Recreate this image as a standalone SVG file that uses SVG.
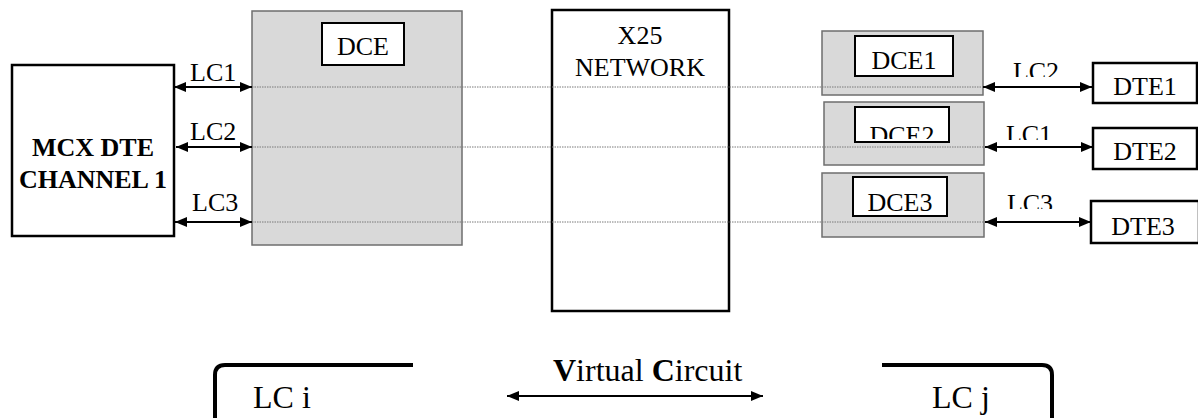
<svg xmlns="http://www.w3.org/2000/svg" width="1198" height="418" viewBox="0 0 1198 418">
<style>
text{font-family:"Liberation Serif","Times New Roman",serif;fill:#000}
.t26{font-size:26px}
.t32{font-size:32px}
.b{font-weight:bold}
.box{fill:#fff;stroke:#000;stroke-width:2.5}
.lbl{fill:#fff;stroke:#000;stroke-width:2}
.gray{fill:#d9d9d9;stroke:#6e6e6e;stroke-width:1.5}
.dot{stroke:#7a7a7a;stroke-width:1;stroke-dasharray:1.5 1;fill:none}
.arr{stroke:#000;stroke-width:2.2;fill:none;marker-start:url(#ah);marker-end:url(#ah)}
.brk{stroke:#000;stroke-width:4;fill:none}
</style>
<defs>
<marker id="ah" markerUnits="userSpaceOnUse" markerWidth="13" markerHeight="12" refX="12" refY="6" orient="auto-start-reverse" viewBox="0 0 13 12">
<path d="M0,1 L12,6 L0,11 z" fill="#000"/>
</marker>
<clipPath id="cDCE2"><rect x="855" y="107" width="94" height="32"/></clipPath>
<clipPath id="cR1"><rect x="995" y="55" width="80" height="22"/></clipPath>
<clipPath id="cR2"><rect x="995" y="115" width="80" height="25"/></clipPath>
<clipPath id="cR3"><rect x="995" y="185" width="80" height="24"/></clipPath>
</defs>

<g id="mcx">
<rect class="box" x="12" y="65" width="162" height="171" stroke-width="2"/>
<text class="t26 b" x="93" y="156" text-anchor="middle">MCX DTE</text>
<text class="t26 b" x="93" y="188" text-anchor="middle">CHANNEL 1</text>
</g>

<g id="dce">
<rect class="gray" x="252" y="11" width="210" height="234"/>
<rect class="lbl" x="322" y="23" width="82" height="42"/>
<text class="t26" x="363" y="55" text-anchor="middle">DCE</text>
</g>

<g id="x25">
<rect class="box" x="552" y="10" width="177" height="301"/>
<text class="t26" x="640" y="44" text-anchor="middle">X25</text>
<text class="t26" x="640" y="76" text-anchor="middle">NETWORK</text>
</g>

<g id="dce1">
<rect class="gray" x="822" y="31" width="161" height="64"/>
<rect class="lbl" x="855" y="36" width="98" height="40"/>
<text class="t26" x="904" y="69" text-anchor="middle">DCE1</text>
</g>

<g id="dce2">
<rect class="gray" x="824" y="102" width="160" height="63"/>
<rect class="lbl" x="855" y="107" width="94" height="35"/>
<text class="t26" x="902" y="144" text-anchor="middle" clip-path="url(#cDCE2)">DCE2</text>
</g>

<g id="dce3">
<rect class="gray" x="822" y="173" width="162" height="64"/>
<rect class="lbl" x="853" y="177" width="94" height="39"/>
<text class="t26" x="900" y="211" text-anchor="middle">DCE3</text>
</g>

<g id="dte1">
<rect class="box" x="1093" y="63" width="104" height="40"/>
<text class="t26" x="1145" y="95" text-anchor="middle">DTE1</text>
</g>
<g id="dte2">
<rect class="box" x="1093" y="128" width="104" height="41"/>
<text class="t26" x="1145" y="160" text-anchor="middle">DTE2</text>
</g>
<g id="dte3">
<rect class="box" x="1091" y="201" width="108" height="42"/>
<text class="t26" x="1143" y="235" text-anchor="middle">DTE3</text>
</g>

<g id="connectors">
<line class="dot" x1="252" y1="87" x2="983" y2="87"/>
<line class="dot" x1="252" y1="147" x2="985" y2="147"/>
<line class="dot" x1="252" y1="222" x2="985" y2="222"/>

<line class="arr" x1="174" y1="87" x2="252" y2="87"/>
<line class="arr" x1="176" y1="147" x2="252" y2="147"/>
<line class="arr" x1="175" y1="222" x2="252" y2="222"/>
<text class="t26" x="190" y="81">LC1</text>
<text class="t26" x="190" y="140">LC2</text>
<text class="t26" x="192" y="211">LC3</text>

<line class="arr" x1="983" y1="87" x2="1092" y2="87"/>
<line class="arr" x1="985" y1="147" x2="1093" y2="147"/>
<line class="arr" x1="985" y1="222" x2="1091" y2="222"/>
<text class="t26" x="1036" y="80" text-anchor="middle" clip-path="url(#cR1)">LC2</text>
<text class="t26" x="1029" y="143" text-anchor="middle" clip-path="url(#cR2)">LC1</text>
<text class="t26" x="1030" y="212" text-anchor="middle" clip-path="url(#cR3)">LC3</text>
</g>

<g id="legend">
<path class="brk" d="M413,365 H225 Q215,365 215,375 V420"/>
<text class="t32" x="253" y="408">LC i</text>
<path class="brk" d="M882,365 H1042 Q1052,365 1052,375 V420"/>
<text class="t32" x="932" y="408">LC j</text>
<line class="arr" x1="507" y1="396" x2="763" y2="396" stroke-width="2"/>
<text class="t32" x="553" y="381"><tspan class="b">V</tspan>irtual <tspan class="b">C</tspan>ircuit</text>
</g>
</svg>
